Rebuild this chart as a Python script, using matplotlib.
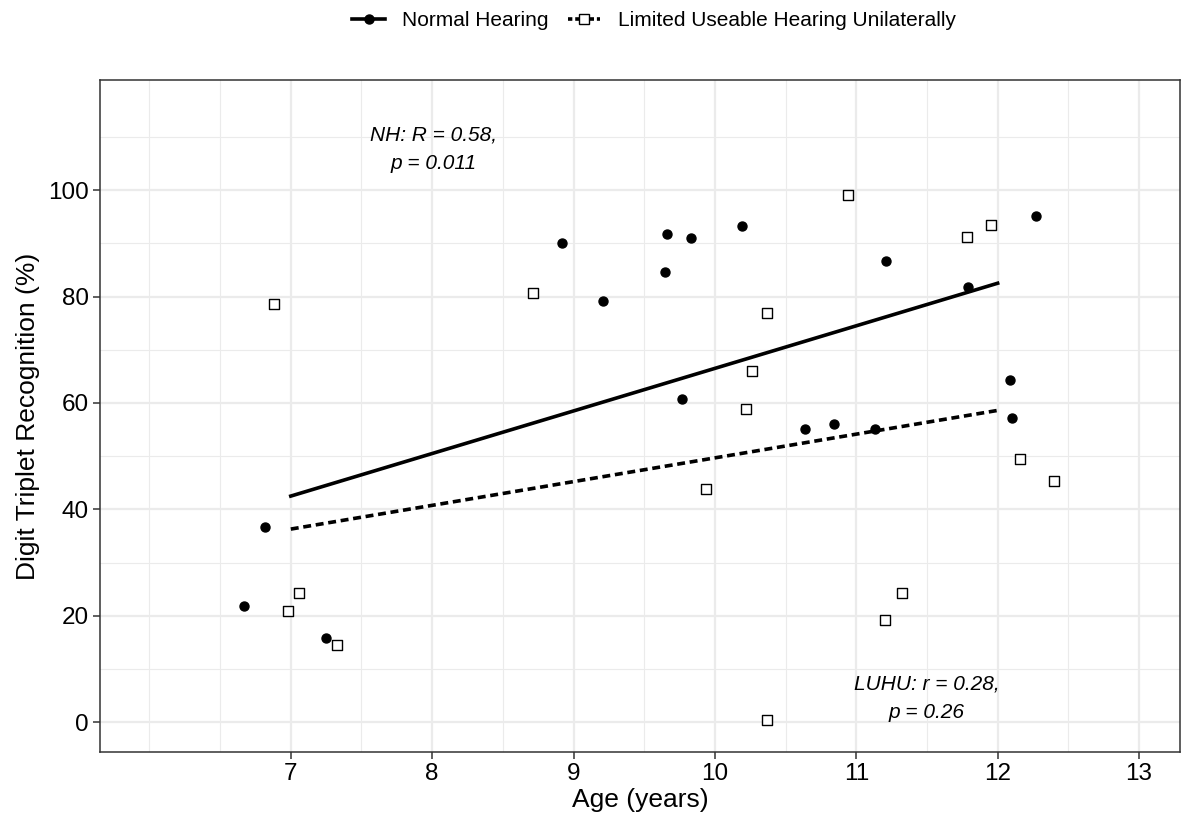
import numpy as np
import matplotlib
matplotlib.use("Agg")
from matplotlib import pyplot as plt
from matplotlib.lines import Line2D
from matplotlib.ticker import FixedLocator

plt.rcParams['font.family'] = ['Liberation Sans', 'DejaVu Sans']

# normal hearing (NH)
nh_age = [6.67, 6.82, 7.25, 8.92, 9.21, 9.65, 9.66, 9.77, 9.83, 10.19,
          10.64, 10.84, 11.13, 11.21, 11.79, 12.09, 12.10, 12.27]
nh_score = [21.8, 36.6, 15.8, 90.0, 79.1, 84.6, 91.7, 60.7, 91.0, 93.2,
            55.1, 56.0, 55.1, 86.7, 81.8, 64.3, 57.1, 95.1]

# limited useable hearing unilaterally (LUHU)
lu_age = [6.88, 6.98, 7.06, 7.33, 8.71, 9.94, 10.22, 10.26, 10.37, 10.37,
          10.94, 11.20, 11.32, 11.78, 11.95, 12.16, 12.40]
lu_score = [78.6, 20.9, 24.2, 14.5, 80.6, 43.8, 58.8, 66.0, 76.9, 0.4,
            99.1, 19.2, 24.2, 91.2, 93.4, 49.4, 45.3]

# fitted lines, read at ages 7 and 12
fit_age = [7, 12]
nh_fit = [42.5, 82.5]
lu_fit = [36.3, 58.6]

fig = plt.figure(figsize=(11.87, 8.21), dpi=100)
ax = fig.add_axes([0.0842, 0.084, 0.9099, 0.8186])

ax.set_xlim(5.65, 13.29)
ax.set_ylim(-5.6, 120.7)

ax.xaxis.set_major_locator(FixedLocator([7, 8, 9, 10, 11, 12, 13]))
ax.xaxis.set_minor_locator(FixedLocator([6, 6.5, 7.5, 8.5, 9.5, 10.5, 11.5, 12.5]))
ax.yaxis.set_major_locator(FixedLocator([0, 20, 40, 60, 80, 100]))
ax.yaxis.set_minor_locator(FixedLocator([10, 30, 50, 70, 90, 110]))
ax.grid(which='major', color='#EBEBEB', lw=1.6, zorder=0)
ax.grid(which='minor', color='#EBEBEB', lw=0.8, zorder=0)
ax.set_axisbelow(True)
ax.tick_params(which='minor', length=0)
ax.tick_params(which='major', length=5, width=1.1, color='#333333',
               labelsize=17.5, labelcolor='black', pad=3)
for s in ax.spines.values():
    s.set_color('#333333')
    s.set_linewidth(1.1)

ax.plot(fit_age, nh_fit, color='black', lw=2.6, zorder=3)
ax.plot(fit_age, lu_fit, color='black', lw=2.6, ls=(0, (2.2, 1.3)), zorder=3)

ax.scatter(nh_age, nh_score, s=42, marker='o', color='black', zorder=4)
ax.scatter(lu_age, lu_score, s=55, marker='s', facecolor='white',
           edgecolor='black', linewidths=1.0, zorder=4)

ax.text(8.01, 107.7, "NH: R = 0.58,\np = 0.011", style='italic', fontsize=15,
        ha='center', va='center', linespacing=1.6)
ax.text(11.5, 4.5, "LUHU: r = 0.28,\np = 0.26", style='italic', fontsize=15,
        ha='center', va='center', linespacing=1.6)

ax.set_xlabel("Age (years)", fontsize=19, labelpad=2)
ax.set_ylabel("Digit Triplet Recognition (%)", fontsize=19, labelpad=6)

handles = [
    Line2D([], [], color='black', lw=2.6, marker='o', markersize=6.5),
    Line2D([], [], color='black', lw=2.6, ls=(0, (1.2, 0.8)), marker='s',
           markersize=7, markerfacecolor='white', markeredgewidth=1.0),
]
fig.legend(handles, ["Normal Hearing", "Limited Useable Hearing Unilaterally"],
           loc='center', bbox_to_anchor=(0.551, 0.975), ncol=2, frameon=False,
           fontsize=15, handlelength=1.55, columnspacing=0.9, handletextpad=0.85)

fig.savefig("out.png", dpi=100)
